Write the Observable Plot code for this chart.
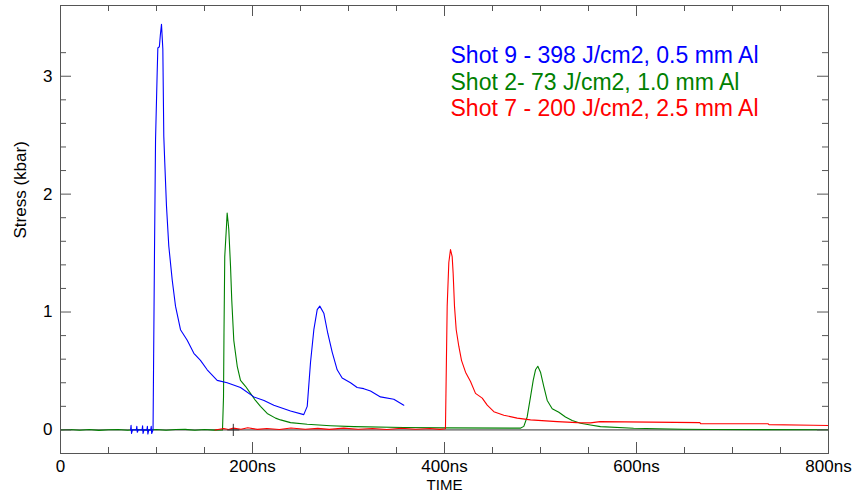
<!DOCTYPE html>
<html>
<head>
<meta charset="utf-8">
<script src="https://cdn.jsdelivr.net/npm/d3@7"></script>
<script src="https://cdn.jsdelivr.net/npm/@observablehq/plot@0.6"></script>
<style>
  html, body { margin: 0; padding: 0; background: #fff; }
  #chart svg { display: block; }
</style>
</head>
<body>
<div id="chart"></div>
<script>
// ---- Data (time in ns, stress in kbar) ----
const seriesNames = [
  "Shot 9 - 398 J/cm2, 0.5 mm Al",
  "Shot 2- 73 J/cm2, 1.0 mm Al",
  "Shot 7 - 200 J/cm2, 2.5 mm Al"
];
const seriesColors = ["#0000ff", "#008000", "#ff0000"];

const blueT = [73, 73.5, 74, 75, 79, 79.5, 80, 81, 85, 85.5, 86, 87, 90, 90.5, 91, 92, 94, 94.5, 95, 96.4,
  97.9, 99, 100.7, 101.4, 103, 104, 105.2, 106.6, 107.6, 108.6, 110.4, 112.8, 116.4, 119.8, 125, 132,
  138.9, 145.8, 152.8, 163.2, 173.6, 187.5, 201.4, 212, 222.2, 239.6, 253.4, 257, 260.4, 263.9, 267.4,
  270.1, 274.3, 278.4, 283, 288.2, 293.4, 302.1, 309, 315.9, 322.9, 333.3, 347.2, 357.6];
const blueV = [0, 0.04, -0.03, 0, 0, 0.03, -0.02, 0, 0, 0.035, -0.03, 0, 0, 0.03, -0.035, 0, 0, 0.03, -0.03, 0,
  1.50, 2.46, 3.03, 3.24, 3.25, 3.35, 3.44, 3.23, 2.49, 2.27, 1.90, 1.56, 1.27, 1.05, 0.85, 0.76,
  0.65, 0.59, 0.51, 0.42, 0.40, 0.36, 0.28, 0.25, 0.21, 0.16, 0.13, 0.20, 0.57, 0.85, 1.02,
  1.05, 0.99, 0.82, 0.66, 0.51, 0.44, 0.40, 0.36, 0.35, 0.33, 0.28, 0.26, 0.21];

const greenT = [0, 10, 20, 30, 40, 50, 60, 70, 80, 90, 100, 110, 120, 130, 140, 150, 160, 168.75,
  169.8, 170.3, 171.1, 172.9, 173.6, 174.5, 175.3, 177.1, 178.4, 180.5, 184.1, 187.5, 192.7, 197.9,
  203.1, 208.3, 215.3, 224, 229.2, 239.6, 257, 281.25, 305.5, 357.6, 400, 479, 482.6, 486.1, 489.6,
  492.4, 494.8, 497.2, 500, 503.4, 507, 512.2, 519.1, 526, 533, 541.7, 552, 562.5, 597, 649, 680, 800];
const greenV = [0, 0.004, -0.003, 0.003, -0.004, 0.002, 0.004, -0.003, 0.003, -0.002, 0.004, -0.003, 0.003, 0.005, -0.003, 0.004, -0.002, 0,
  0.28, 0.82, 1.47, 1.73, 1.84, 1.77, 1.70, 1.39, 1.10, 0.76, 0.54, 0.42, 0.37, 0.31,
  0.25, 0.20, 0.14, 0.10, 0.085, 0.062, 0.048, 0.036, 0.028, 0.02, 0.017, 0.015, 0.03, 0.11, 0.28,
  0.42, 0.51, 0.54, 0.49, 0.37, 0.25, 0.18, 0.15, 0.11, 0.08, 0.057, 0.042, 0.028, 0.014, 0.006, 0.003, 0.002];

const redT = [161, 170, 175, 180, 188, 195, 205, 215, 228, 240, 255, 268, 280, 295, 310, 325, 340, 355, 370, 385, 395, 401,
  402, 402.8, 404.5, 406.25, 408, 409, 410.4, 412.2, 414.9, 417.7, 421.9, 427.1, 432.3, 439.3, 444.5,
  451.4, 461.8, 475.7, 489.6, 517.4, 538.2, 552, 562, 666, 667, 737, 738, 784, 800];
const redV = [0, 0.012, 0.004, 0.015, 0.006, 0.018, 0.005, 0.012, 0.004, 0.016, 0.006, 0.013, 0.005, 0.015, 0.006, 0.012, 0.004, 0.014, 0.006, 0.012, 0.005, 0.01,
  0.59, 1.05, 1.42, 1.53, 1.47, 1.33, 1.05, 0.85, 0.71, 0.59, 0.49, 0.41, 0.31, 0.27, 0.21,
  0.155, 0.125, 0.10, 0.085, 0.07, 0.062, 0.06, 0.07, 0.062, 0.052, 0.052, 0.045, 0.04, 0.037];

const xMajorTicks = [0, 200, 400, 600, 800];
const xMinorTicks = d3.range(50, 800, 50).filter(d => d % 200 !== 0);
const yMajorTicks = [0, 1, 2, 3];
const yMinorTicks = d3.range(1, 18).map(i => -0.2 + i * 0.2).filter(d => Math.abs(d - Math.round(d)) > 1e-6);
const markerT = [180];
const xLabel = "TIME";
const yLabel = "Stress (kbar)";

// ---- Build ----
const toRows = (T, V) => T.map((t, i) => ({t, v: V[i]}));
const blue = toRows(blueT, blueV);
const green = toRows(greenT, greenV);
const red = toRows(redT, redV);

const W = 855, H = 493, mL = 60, mR = 27, mT = 5, mB = 40;
const iw = W - mL - mR, ih = H - mT - mB;
const axisColor = "#555";
const font = "'Liberation Sans', Arial, sans-serif";

const chart = Plot.plot({
  width: W, height: H,
  marginLeft: mL, marginRight: mR, marginTop: mT, marginBottom: mB,
  style: {fontFamily: font, background: "#fff"},
  x: {domain: [0, 800]},
  y: {domain: [-0.2, 3.6]},
  marks: [
    Plot.ruleY([0], {stroke: "#333", strokeWidth: 1}),
    Plot.line(green, {x: "t", y: "v", stroke: seriesColors[1], strokeWidth: 1.1}),
    Plot.line(blue, {x: "t", y: "v", stroke: seriesColors[0], strokeWidth: 1.1}),
    Plot.line(red, {x: "t", y: "v", stroke: seriesColors[2], strokeWidth: 1.1}),
    Plot.dot(markerT, {x: d => d, y: () => 0, symbol: "plus", r: 4, stroke: "#333", strokeWidth: 1}),
    Plot.frame({stroke: axisColor}),
    // inward ticks, bottom & top
    Plot.tickX(xMajorTicks, {x: d => d, stroke: axisColor, insetTop: ih - 11}),
    Plot.tickX(xMinorTicks, {x: d => d, stroke: axisColor, insetTop: ih - 6}),
    Plot.tickX(xMajorTicks, {x: d => d, stroke: axisColor, insetBottom: ih - 11}),
    Plot.tickX(xMinorTicks, {x: d => d, stroke: axisColor, insetBottom: ih - 6}),
    // inward ticks, left & right
    Plot.tickY(yMajorTicks, {y: d => d, stroke: axisColor, insetRight: iw - 11}),
    Plot.tickY(yMinorTicks, {y: d => d, stroke: axisColor, insetRight: iw - 6}),
    Plot.tickY(yMajorTicks, {y: d => d, stroke: axisColor, insetLeft: iw - 11}),
    Plot.tickY(yMinorTicks, {y: d => d, stroke: axisColor, insetLeft: iw - 6}),
    // axis labels
    Plot.axisX(xMajorTicks, {tickSize: 0, tickPadding: 6.5, fontSize: 17, fill: "#000",
      tickFormat: d => d === 0 ? "0" : d + "ns", label: null}),
    Plot.axisY(yMajorTicks, {tickSize: 0, tickPadding: 8, fontSize: 17, fill: "#000",
      tickFormat: d => String(d), label: null}),
    Plot.text([xLabel], {text: d => d, frameAnchor: "bottom", dy: 36.5, lineAnchor: "bottom", fontSize: 15, fill: "#000"}),
    Plot.text([yLabel], {text: d => d, frameAnchor: "left", dx: -40, dy: 9, rotate: -90, fontSize: 17, fill: "#000"}),
    // legend text
    Plot.text([seriesNames[0]], {text: d => d, frameAnchor: "top-left", dx: 390, dy: 50, textAnchor: "start", lineAnchor: "middle", fontSize: 23, fill: seriesColors[0]}),
    Plot.text([seriesNames[1]], {text: d => d, frameAnchor: "top-left", dx: 390, dy: 77, textAnchor: "start", lineAnchor: "middle", fontSize: 23, fill: seriesColors[1]}),
    Plot.text([seriesNames[2]], {text: d => d, frameAnchor: "top-left", dx: 390, dy: 103, textAnchor: "start", lineAnchor: "middle", fontSize: 23, fill: seriesColors[2]})
  ]
});
document.getElementById("chart").appendChild(chart);
</script>
</body>
</html>
